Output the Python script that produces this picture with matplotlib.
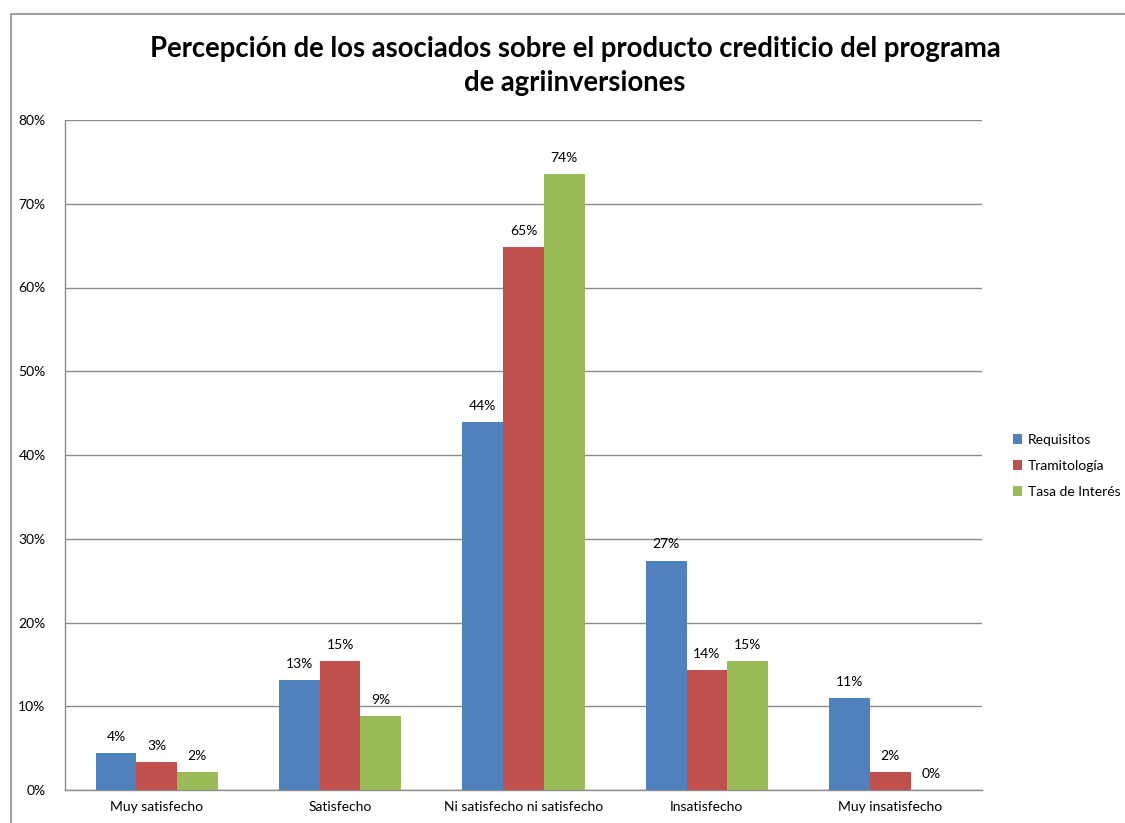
import matplotlib
matplotlib.use("Agg")
import matplotlib.pyplot as plt
import numpy as np
from matplotlib.patches import Rectangle

categories = ["Muy satisfecho", "Satisfecho", "Ni satisfecho ni satisfecho", "Insatisfecho", "Muy insatisfecho"]
series_names = ["Requisitos", "Tramitología", "Tasa de Interés"]
requisitos = [4.4, 13.1, 43.9, 27.4, 11.0]
tramitologia = [3.3, 15.4, 64.8, 14.3, 2.2]
tasa = [2.2, 8.8, 73.6, 15.4, 0.0]
yticks = [0, 10, 20, 30, 40, 50, 60, 70, 80]
colors = ["#4F81BD", "#C0504D", "#9BBB59"]

plt.rcParams['font.family'] = ['Lato', 'DejaVu Sans']

fig = plt.figure(figsize=(11.25, 8.23), dpi=100)
W, H = 1125, 823
# outer chart frame
fig.patches.append(Rectangle((11 / W, -0.01), 1.02, (823 - 14) / H + 0.01, transform=fig.transFigure,
                             fill=False, edgecolor="#8c8c8c", linewidth=1.2))

ax = fig.add_axes([65 / W, (H - 790) / H, (982 - 65) / W, (790 - 120) / H])
x = np.arange(len(categories))
bw = 0.222
all_series = [requisitos, tramitologia, tasa]
for i, (vals, name, c) in enumerate(zip(all_series, series_names, colors)):
    pos = x + (i - 1) * bw
    ax.bar(pos, vals, width=bw, color=c, label=name, zorder=3, edgecolor="none")
    for p, v in zip(pos, vals):
        ax.text(p, v + 1.2, f"{round(v):.0f}%", ha="center", va="bottom", fontsize=10, color="#000000")

ax.set_xlim(-0.5, len(categories) - 0.5)
ax.set_ylim(0, 80)
ax.set_yticks(yticks)
ax.set_yticklabels([f"{t}%" for t in yticks], fontsize=10)
ax.set_xticks(x)
ax.set_xticklabels(categories, fontsize=10)
ax.tick_params(axis="both", length=0, pad=8)
ax.tick_params(axis="y", pad=14)
ax.yaxis.grid(True, color="#8c8c8c", linewidth=1.0, zorder=0)
for s in ["top", "right"]:
    ax.spines[s].set_visible(False)
for s in ["left", "bottom"]:
    ax.spines[s].set_color("#8c8c8c")
    ax.spines[s].set_linewidth(1.0)

fig.text(575 / W, 1 - 66 / H, "Percepción de los asociados sobre el producto crediticio del programa\nde agriinversiones",
         ha="center", va="center", fontsize=19.8, fontweight="bold", linespacing=1.4)

fig.legend(loc="center left", bbox_to_anchor=(1000 / W, 1 - 466 / H), frameon=False, fontsize=10,
           handlelength=0.7, handleheight=0.7, handletextpad=0.4, labelspacing=1.0)

fig.savefig("out.png", dpi=100)
